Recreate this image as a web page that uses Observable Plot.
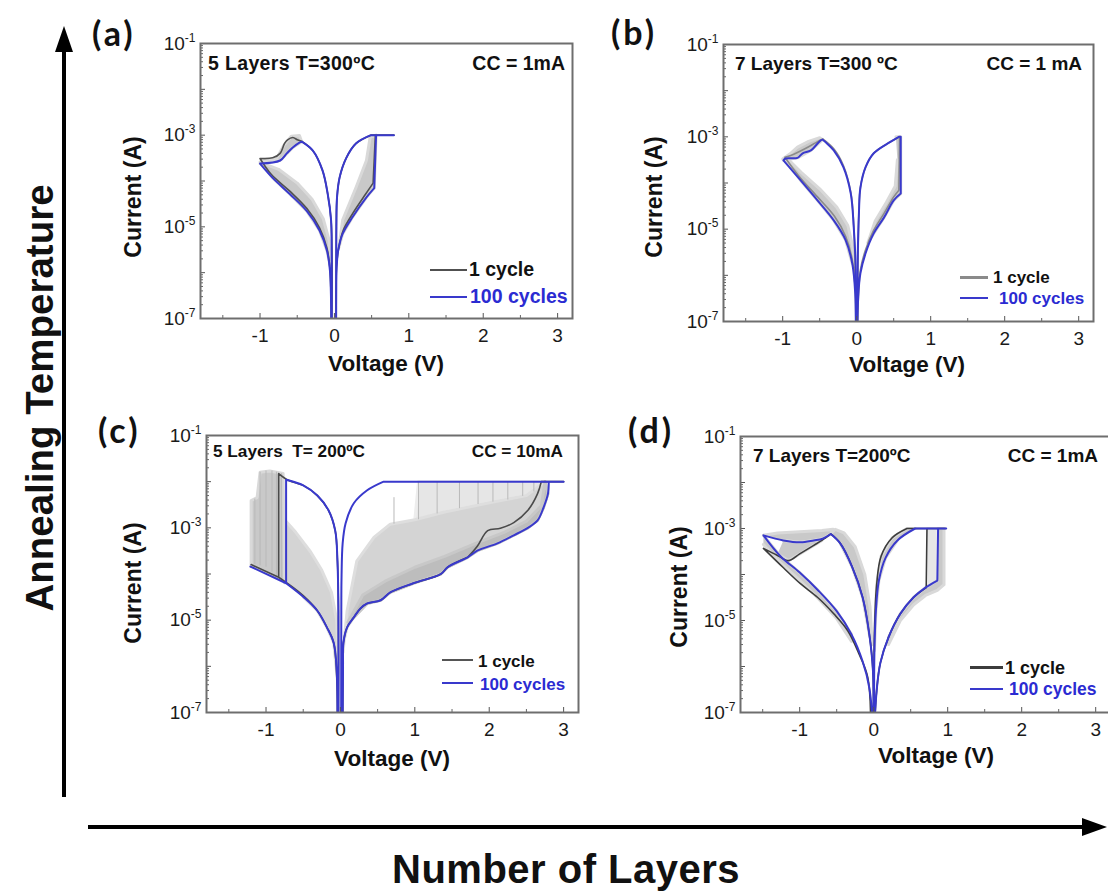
<!DOCTYPE html>
<html>
<head>
<meta charset="utf-8">
<script src="https://cdn.jsdelivr.net/npm/d3@7"></script>
<script src="https://cdn.jsdelivr.net/npm/@observablehq/plot@0.6"></script>
<style>
  body { margin: 0; background: #fff; }
  #fig { position: relative; width: 1108px; height: 894px; overflow: hidden;
         font-family: "Liberation Sans", Arial, sans-serif; color: #111; background: #fff; }
  .abs { position: absolute; white-space: pre; line-height: 1; }
  .panel { position: absolute; }
  #arrows { position: absolute; left: 0; top: 0; }
</style>
</head>
<body>
<div id="fig">
  <svg id="arrows" width="1108" height="894">
    <line x1="64" y1="797" x2="64" y2="48" stroke="#000" stroke-width="4"/>
    <polygon points="64,26 55,52 73,52" fill="#000"/>
    <line x1="88" y1="827" x2="1086" y2="827" stroke="#000" stroke-width="4"/>
    <polygon points="1107,827 1082,818 1082,836" fill="#000"/>
  </svg>
</div>
<script>
// ---- axes ----
const xTicks = [-1, 0, 1, 2, 3];
const xMinorTicks = [-1.5, -0.5, 0.5, 1.5, 2.5];
const yTickLabels = [1e-7, 1e-5, 1e-3, 1e-1];
const yDecades = [1e-7, 1e-6, 1e-5, 1e-4, 1e-3, 1e-2, 1e-1];
const yMinor = [];
for (const d of yDecades.slice(0, -1)) for (let m = 2; m <= 9; m++) yMinor.push(d * m);

// Sweeps are [voltage V, current A]; a third entry of 1 marks a sharp corner
// (set / reset jump, compliance limit, sweep reversal).

// ---- (a) 5 layers, 300 ºC, CC = 1 mA ----
const aBlueRight = [[0.023,5e-8],[0.025,6e-7],[0.03,1.3e-6],[0.05,3e-6],[0.11,7e-6],[0.24,1.6e-5],[0.43,4.4e-5],[0.535,7e-5,1],[0.56,1e-3,1],[0.8,1e-3,1],[0.49,1e-3,1],[0.29,6.6e-4],[0.16,3.2e-4],[0.07,1.2e-4],[0.035,4.4e-5],[0.026,1e-5],[0.024,1.8e-6],[0.023,5e-8]];
const aBlueLeft = [[-0.036,5e-8],[-0.037,3e-6],[-0.045,1.4e-5],[-0.09,5.2e-5],[-0.16,1.7e-4],[-0.29,4.6e-4],[-0.44,7.2e-4,1],[-0.47,6.9e-4],[-0.56,5.4e-4],[-0.64,4e-4],[-0.73,2.8e-4],[-1.0,2.4e-4,1],[-0.83,1.17e-4],[-0.6,5.2e-5],[-0.37,2.2e-5],[-0.2,8.3e-6],[-0.1,3e-6],[-0.06,1.1e-6],[-0.042,5e-8]];
const aBlackRight = [[0.023,5e-8],[0.03,1.5e-6],[0.06,3.6e-6],[0.12,8.5e-6],[0.25,2e-5],[0.42,5.2e-5],[0.52,9e-5,1],[0.55,1e-3,1],[0.8,1e-3,1],[0.49,1e-3,1],[0.29,6.6e-4],[0.16,3.2e-4],[0.07,1.2e-4],[0.035,4.4e-5],[0.026,1e-5],[0.023,5e-8]];
const aBlackLeft = [[-0.036,5e-8],[-0.045,1.4e-5],[-0.09,5.2e-5],[-0.16,1.7e-4],[-0.29,4.6e-4],[-0.44,7.4e-4,1],[-0.49,7.8e-4],[-0.56,8.9e-4],[-0.63,7.9e-4],[-0.67,6.6e-4],[-0.73,4e-4],[-0.83,3.2e-4],[-1.0,3.1e-4,1],[-0.85,1.4e-4],[-0.6,6e-5],[-0.37,2.5e-5],[-0.2,9.5e-6],[-0.1,3.4e-6],[-0.06,1.2e-6],[-0.042,5e-8]];
const aGrayRight = [[0.48,9e-4],[0.56,1e-3],[0.535,7e-5],[0.43,4.4e-5],[0.24,1.6e-5],[0.11,7e-6],[0.06,3.5e-6],[0.11,1.4e-5],[0.29,7.2e-5],[0.43,2.8e-4],[0.48,9e-4]];
const aGrayTop = [[-1.0,2.6e-4],[-0.78,3e-4],[-0.68,6e-4],[-0.58,9.5e-4],[-0.47,9.8e-4],[-0.44,7.2e-4],[-0.56,5.4e-4],[-0.73,2.8e-4],[-1.0,2.4e-4]];
const aGrayOuter = [[-0.95,2.2e-4],[-0.83,1.17e-4],[-0.6,5.2e-5],[-0.37,2.2e-5],[-0.2,8.3e-6],[-0.1,3e-6],[-0.06,1.5e-6],[-0.07,5e-6],[-0.15,1.5e-5],[-0.3,4e-5],[-0.5,9e-5],[-0.75,1.8e-4],[-0.95,2.4e-4]];

// ---- (b) 7 layers, 300 ºC, CC = 1 mA ----
const bBlueRight = [[0.01,5e-8],[0.02,3.3e-7],[0.05,1.1e-6],[0.12,3e-6],[0.23,8.1e-6],[0.37,1.8e-5],[0.5,4.2e-5],[0.595,5.9e-5,1],[0.595,1e-3,1],[0.57,1e-3,1],[0.42,7.2e-4],[0.23,4.4e-4],[0.12,2.2e-4],[0.05,7.9e-5],[0.03,2.2e-5],[0.015,3e-6],[0.01,5e-8]];
const bBlueLeft = [[-0.01,5e-8],[-0.012,1.3e-6],[-0.04,1.1e-5],[-0.08,5.9e-5],[-0.18,2.2e-4],[-0.31,5.1e-4],[-0.46,8.7e-4,1],[-0.49,8.3e-4],[-0.62,5.1e-4],[-0.73,4.4e-4],[-0.8,3.5e-4],[-0.96,3.4e-4],[-0.99,3.1e-4,1],[-0.76,1.15e-4],[-0.53,4.2e-5],[-0.31,1.55e-5],[-0.15,5.8e-6],[-0.06,1.8e-6],[-0.02,4.1e-7],[-0.012,5e-8]];
const bBlackRight = [[0.01,5e-8],[0.05,1.3e-6],[0.12,3.6e-6],[0.23,9.5e-6],[0.37,2.2e-5],[0.5,5e-5],[0.57,7e-5,1],[0.58,1e-3,1],[0.42,7.2e-4],[0.23,4.4e-4],[0.12,2.2e-4],[0.05,7.9e-5],[0.03,2.2e-5],[0.01,5e-8]];
const bBlackLeft = [[-0.01,5e-8],[-0.04,1.2e-5],[-0.08,6.3e-5],[-0.18,2.4e-4],[-0.31,5.5e-4],[-0.46,9e-4,1],[-0.55,7.5e-4],[-0.7,5.5e-4],[-0.85,4.2e-4],[-0.97,3.6e-4,1],[-0.78,1.4e-4],[-0.53,5e-5],[-0.3,1.9e-5],[-0.15,7e-6],[-0.06,2.2e-6],[-0.02,5e-7],[-0.012,5e-8]];
const bGrayTop = [[-1.0,3.3e-4],[-0.9,4.3e-4],[-0.8,6e-4],[-0.65,8e-4],[-0.5,9.6e-4],[-0.46,8.7e-4],[-0.62,5.1e-4],[-0.8,3.5e-4],[-0.99,3.1e-4]];
const bGrayOuter = [[-0.96,3.1e-4],[-0.76,1.15e-4],[-0.53,4.2e-5],[-0.31,1.55e-5],[-0.15,5.8e-6],[-0.06,1.8e-6],[-0.05,4e-6],[-0.12,1.2e-5],[-0.27,3e-5],[-0.5,7.5e-5],[-0.75,1.7e-4],[-0.93,3.3e-4]];
const bGrayRight = [[0.53,1e-3],[0.595,1e-3],[0.595,5.9e-5],[0.5,4.2e-5],[0.37,1.8e-5],[0.23,8.1e-6],[0.15,5e-6],[0.25,1.5e-5],[0.4,3.8e-5],[0.52,8.5e-5],[0.55,3.2e-4]];

// ---- (c) 5 layers, 200 ºC, CC = 10 mA ----
const cBlueRight = [[0.03,5e-8],[0.035,1e-6],[0.04,3.2e-6],[0.09,7e-6],[0.18,1.15e-5],[0.27,1.8e-5],[0.36,2.3e-5],[0.54,2.7e-5],[0.67,4e-5],[0.98,6.3e-5],[1.35,1e-4],[1.44,1.4e-4],[1.71,2.3e-4],[1.84,3.2e-4],[2.11,4.6e-4],[2.33,6.9e-4],[2.52,1e-3],[2.65,1.45e-3],[2.73,2.75e-3],[2.79,5.5e-3],[2.8,1e-2,1],[3.0,1e-2,1],[0.58,1e-2,1],[0.36,6.5e-3],[0.18,3.4e-3],[0.07,1.26e-3],[0.03,4.6e-4],[0.015,8.5e-5],[0.012,1.6e-5],[0.01,5e-8]];
const cBlueLeft = [[-0.027,5e-8],[-0.027,1.6e-5],[-0.04,1.95e-4],[-0.07,8.7e-4],[-0.16,2.4e-3],[-0.31,5e-3],[-0.5,8.3e-3],[-0.7,1.07e-2],[-0.73,1.1e-2,1],[-0.73,6.3e-5,1],[-1.21,1.45e-4,1],[-0.73,6.3e-5,1],[-0.5,3.2e-5],[-0.31,1.6e-5],[-0.18,6.9e-6],[-0.09,3.2e-6],[-0.05,8.1e-7],[-0.04,5e-8]];
const cBlackRight = [[0.03,5e-8],[0.035,1e-6],[0.04,3.2e-6],[0.09,7e-6],[0.18,1.15e-5],[0.27,1.8e-5],[0.36,2.3e-5],[0.54,2.7e-5],[0.67,4e-5],[0.98,6.3e-5],[1.35,1e-4],[1.44,1.4e-4],[1.71,2.3e-4,1],[1.84,4e-4],[1.98,8.7e-4],[2.15,9.8e-4],[2.33,1.3e-3],[2.52,2.4e-3],[2.65,5.5e-3],[2.7,1e-2,1],[3.0,1e-2]];
const cBlackLeft = [[-0.027,5e-8],[-0.027,1.6e-5],[-0.04,1.95e-4],[-0.07,8.7e-4],[-0.16,2.4e-3],[-0.31,5e-3],[-0.5,8.3e-3],[-0.7,1.07e-2],[-0.83,1.5e-2,1],[-0.83,8.5e-5,1],[-1.2,1.6e-4,1],[-0.83,8.5e-5,1],[-0.5,3.4e-5],[-0.31,1.6e-5],[-0.18,6.9e-6],[-0.09,3.2e-6],[-0.04,5e-8]];
const cGrayLeftBlock = [[-1.2,1.45e-4],[-1.2,3.9e-3],[-1.12,4.5e-3],[-1.08,1.6e-2],[-0.95,1.7e-2],[-0.77,1.5e-2],[-0.75,6.5e-5]];
const cGrayLeftFan = [[-0.75,6.5e-5],[-0.75,1.5e-3],[-0.6,8e-4],[-0.4,3e-4],[-0.25,1.2e-4],[-0.12,4e-5],[-0.05,1e-5],[-0.035,2e-6],[-0.04,5e-7],[-0.09,3.2e-6],[-0.18,6.9e-6],[-0.31,1.6e-5],[-0.5,3.2e-5]];
const cGrayRightFan = [[0.035,2e-6],[0.09,1.6e-5],[0.22,1.9e-4],[0.45,6.2e-4],[0.67,1.2e-3],[1.0,1.5e-3],[1.4,2.2e-3],[2.0,3.5e-3],[2.5,5e-3],[2.75,1e-2],[2.79,5.5e-3],[2.73,2.75e-3],[2.65,1.45e-3],[2.52,1e-3],[2.33,6.9e-4],[2.11,4.6e-4],[1.84,3.2e-4],[1.71,2.3e-4],[1.44,1.4e-4],[1.35,1e-4],[0.98,6.3e-5],[0.67,4e-5],[0.54,2.7e-5],[0.36,2.3e-5],[0.18,1.15e-5],[0.09,7e-6],[0.04,3.2e-6]];
const cGrayRightCore = [[0.1,9e-6],[0.3,3.5e-5],[0.6,7e-5],[1.0,1.4e-4],[1.4,2.4e-4],[1.8,4.5e-4],[2.2,8e-4],[2.5,1.4e-3],[2.7,3e-3],[2.75,1e-2],[2.79,5.5e-3],[2.73,2.75e-3],[2.65,1.45e-3],[2.52,1e-3],[2.33,6.9e-4],[2.11,4.6e-4],[1.84,3.2e-4],[1.71,2.3e-4],[1.44,1.4e-4],[1.35,1e-4],[0.98,6.3e-5],[0.67,4e-5],[0.54,2.7e-5],[0.36,2.3e-5],[0.18,1.15e-5]];
const cGrayRightTop = [[1.0,1.5e-3],[1.05,1e-2],[2.75,1e-2],[2.5,5e-3],[2.0,3.5e-3],[1.4,2.2e-3]];
// switching events of single cycles: [V, current before, current after]
const cGraySet = [[0.72,1.2e-3,4.5e-3],[1.05,1.5e-3,1e-2],[1.3,2e-3,1e-2],[1.6,2.6e-3,1e-2],[1.85,3.2e-3,1e-2],[2.05,3.6e-3,1e-2],[2.25,4e-3,1e-2],[2.45,4.8e-3,1e-2],[2.6,6e-3,1e-2]];
const cGrayReset = [[-1.15,1.6e-4,4.2e-3],[-1.08,1.5e-4,1.6e-2],[-1.0,1.4e-4,1.7e-2],[-0.92,1.1e-4,1.7e-2],[-0.86,9e-5,1.6e-2],[-0.79,7.5e-5,1.5e-2]];

// ---- (d) 7 layers, 200 ºC, CC = 1 mA ----
const dBlueRight = [[0.01,5e-8],[0.04,3e-7],[0.09,1.2e-6],[0.2,4.3e-6],[0.36,1.4e-5],[0.54,3.2e-5],[0.7,5.2e-5],[0.86,7.4e-5,1],[0.87,1e-3,1],[0.98,1e-3,1],[0.56,1e-3,1],[0.32,5.5e-4],[0.16,2.3e-4],[0.07,7.4e-5],[0.03,1.66e-5],[0.01,2.2e-6],[0.005,5e-8]];
const dBlueLeft = [[-0.005,5e-8],[-0.01,8.1e-7],[-0.06,5.1e-6],[-0.15,3.2e-5],[-0.29,1.45e-4],[-0.45,4.7e-4],[-0.58,7.6e-4,1],[-0.69,6e-4],[-0.81,5.5e-4],[-0.99,5e-4],[-1.22,5.5e-4],[-1.49,7.1e-4,1],[-1.26,2.5e-4],[-1.0,1.1e-4],[-0.75,4.5e-5],[-0.5,1.6e-5],[-0.3,5e-6],[-0.15,1.3e-6],[-0.06,3.5e-7],[-0.01,5e-8]];
const dBlackRight = [[0.01,5e-8],[0.04,3e-7],[0.09,1.2e-6],[0.2,4.3e-6],[0.36,1.4e-5],[0.54,3.2e-5],[0.71,5.2e-5,1],[0.72,1e-3,1],[0.97,1e-3,1],[0.45,1e-3,1],[0.25,6.3e-4],[0.1,2.5e-4],[0.04,6e-5],[0.01,5e-6],[0.005,5e-8]];
const dBlackLeft = [[-0.005,5e-8],[-0.01,8.1e-7],[-0.06,5.1e-6],[-0.15,3.2e-5],[-0.29,1.45e-4],[-0.45,4.7e-4],[-0.58,7.6e-4,1],[-0.7,5.5e-4],[-0.81,4.3e-4],[-1.0,2.8e-4],[-1.15,2e-4],[-1.3,2.6e-4],[-1.49,3.7e-4,1],[-1.22,1.4e-4],[-0.99,6.3e-5],[-0.76,3.2e-5],[-0.54,1.4e-5],[-0.35,6e-6],[-0.2,1.9e-6],[-0.08,5.8e-7],[-0.04,5e-8]];
const dGrayTop = [[-1.49,7.1e-4],[-1.3,8e-4],[-1.0,8.5e-4],[-0.7,9e-4],[-0.55,9.6e-4],[-0.58,7.6e-4],[-0.69,6e-4],[-0.81,5.5e-4],[-0.99,5e-4],[-1.22,5.5e-4]];
const dGrayMid = [[-1.22,5.5e-4],[-0.99,5e-4],[-0.81,5.5e-4],[-0.69,6e-4],[-0.7,5.5e-4],[-0.81,4.3e-4],[-1.0,2.8e-4],[-1.15,2e-4],[-1.3,2.8e-4]];
const dGrayInnerLeft = [[-0.58,7.6e-4],[-0.52,9.6e-4],[-0.4,8e-4],[-0.25,4e-4],[-0.12,1e-4],[-0.05,2e-5],[-0.02,3e-6],[-0.06,5.1e-6],[-0.15,3.2e-5],[-0.29,1.45e-4],[-0.45,4.7e-4]];
const dGrayDiagonal = [[-1.49,7.1e-4],[-1.26,2.5e-4],[-1.0,1.1e-4],[-0.75,4.5e-5],[-0.5,1.6e-5],[-0.3,5e-6],[-0.3,3.5e-6],[-0.5,1.1e-5],[-0.75,3e-5],[-1.0,7.5e-5],[-1.26,1.8e-4],[-1.49,4.5e-4]];
const dGrayInnerRight = [[0.56,1e-3],[0.45,1e-3],[0.25,6.3e-4],[0.1,2.5e-4],[0.04,6e-5],[0.012,5e-6],[0.01,2.2e-6],[0.03,1.66e-5],[0.07,7.4e-5],[0.16,2.3e-4],[0.32,5.5e-4]];
const dGrayOuterRight = [[0.87,1e-3],[0.95,1e-3],[0.95,6e-5],[0.86,4.5e-5],[0.7,3.5e-5],[0.54,2.2e-5],[0.36,1e-5],[0.2,3e-6],[0.2,4.3e-6],[0.36,1.4e-5],[0.54,3.2e-5],[0.7,5.2e-5],[0.86,7.4e-5]];
const dGraySet = [[0.73,1e-3],[0.86,1e-3],[0.86,7.4e-5],[0.73,5.8e-5]];

const BLUE = "#3939cc";
const BLUE_TEXT = "#2b2bd2";
// shades for the bundles of cycles, from faint to dense
const SHADES = {haze: ["#e6e6e6", "#ededed"], light: ["#d4d4d4", "#dedede"], band: ["#c9c9c9", "#d9d9d9"], core: ["#bdbdbd", "#c8c8c8"]};

const panels = [
  { frame: {left: 200, top: 43, w: 372, h: 275}, gray: {band: [aGrayRight, aGrayTop, aGrayOuter]},
    black: [aBlackRight, aBlackLeft], blackColor: "#505050", blue: [aBlueRight, aBlueLeft] },
  { frame: {left: 723, top: 44, w: 370, h: 277}, gray: {band: [bGrayTop, bGrayOuter, bGrayRight]},
    black: [bBlackRight, bBlackLeft], blackColor: "#8a8a8a", blue: [bBlueRight, bBlueLeft] },
  { frame: {left: 206, top: 435, w: 372, h: 277},
    gray: {haze: [cGrayRightTop], light: [cGrayLeftFan, cGrayRightFan], band: [cGrayLeftBlock], core: [cGrayRightCore]},
    rules: [...cGraySet, ...cGrayReset],
    black: [cBlackRight, cBlackLeft], blackColor: "#4a4a4a", blue: [cBlueRight, cBlueLeft] },
  { frame: {left: 740, top: 436, w: 370, h: 276},
    gray: {haze: [dGraySet], band: [dGrayTop, dGrayMid, dGrayInnerLeft, dGrayDiagonal, dGrayInnerRight, dGrayOuterRight]},
    black: [dBlackRight, dBlackLeft], blackColor: "#3c3c3c", blue: [dBlueRight, dBlueLeft] }
];

const fig = document.getElementById("fig");
const SVGNS = "http://www.w3.org/2000/svg";
const ML = 70, MR = 2, MT = 2, MB = 40;
const X = d => d[0], Y = d => d[1];
// doubling a corner point keeps the Catmull-Rom sweep sharp there
const sweep = arr => arr.flatMap(d => d[2] ? [d, d] : [d]);

function drawPanel(p) {
  const fw = p.frame.w, fh = p.frame.h;
  const marks = [];
  // bundles of the 100 cycles: filled outlines with a soft rim
  for (const level of ["haze", "light", "band", "core"]) {
    const [fill, rim] = SHADES[level];
    for (const poly of p.gray[level] || [])
      marks.push(Plot.line(poly, {x: X, y: Y, fill, stroke: rim, strokeWidth: 3, clip: true}));
  }
  if (p.rules) marks.push(Plot.ruleX(p.rules, {x: d => d[0], y1: d => d[1], y2: d => d[2], stroke: "#b9b9b9", strokeWidth: 1, clip: true}));
  for (const c of p.black) marks.push(Plot.line(sweep(c), {x: X, y: Y, stroke: p.blackColor, strokeWidth: 1.6, curve: "catmull-rom", clip: true}));
  for (const c of p.blue) marks.push(Plot.line(sweep(c), {x: X, y: Y, stroke: BLUE, strokeWidth: 2, curve: "catmull-rom", clip: true}));
  marks.push(Plot.tickY(yDecades, {y: d => d, insetRight: fw - 5, stroke: "#555"}));
  marks.push(Plot.tickY(yMinor, {y: d => d, insetRight: fw - 3, stroke: "#666"}));
  marks.push(Plot.tickX(xTicks, {x: d => d, insetTop: fh - 5, stroke: "#555"}));
  marks.push(Plot.tickX(xMinorTicks, {x: d => d, insetTop: fh - 3, stroke: "#666"}));
  marks.push(Plot.frame({stroke: "#6e6e6e", strokeWidth: 2}));
  marks.push(Plot.axisX({ticks: xTicks, tickSize: 0, tickPadding: 10, tickFormat: d => String(d), label: null}));
  marks.push(Plot.axisY({ticks: yTickLabels, tickSize: 0, tickPadding: 5,
    tickFormat: d => "10^" + Math.round(Math.log10(d)), label: null}));
  const svg = Plot.plot({
    width: ML + fw + MR, height: MT + fh + MB,
    marginLeft: ML, marginRight: MR, marginTop: MT, marginBottom: MB,
    x: {domain: [-1.8, 3.2]},
    y: {type: "log", domain: [1e-7, 1e-1]},
    style: {fontFamily: '"Liberation Sans", Arial, sans-serif', fontSize: "19px", color: "#1a1a1a", background: "transparent", overflow: "visible"},
    marks
  });
  // superscript exponents on the decade labels
  svg.querySelectorAll("text").forEach(t => {
    const m = t.textContent.match(/^10\^(-?\d+)$/);
    if (!m) return;
    t.textContent = "10";
    const sup = document.createElementNS(SVGNS, "tspan");
    sup.setAttribute("dy", "-8");
    sup.setAttribute("font-size", "12");
    sup.textContent = m[1];
    t.appendChild(sup);
  });
  svg.classList.add("panel");
  svg.style.left = (p.frame.left - ML) + "px";
  svg.style.top = (p.frame.top - MT) + "px";
  fig.appendChild(svg);
}
panels.forEach(drawPanel);

// ---- text ----
function txt(str, o) {
  const d = document.createElement("div");
  d.className = "abs";
  d.textContent = str;
  d.style.fontSize = o.size + "px";
  d.style.fontWeight = o.weight || "bold";
  if (o.family) d.style.fontFamily = o.family;
  if (o.ls) d.style.letterSpacing = o.ls + "px";
  d.style.color = o.color || "#111";
  if (o.rotate) {
    d.style.left = o.x + "px"; d.style.top = o.y + "px";
    d.style.transform = "translate(-50%,-50%) rotate(-90deg)";
  } else {
    const k = o.k || 0.8465;
    d.style.top = (o.base - k * o.size) + "px";
    d.style.left = o.x + "px";
    if (o.anchor === "end") d.style.transform = "translateX(-100%)";
    if (o.anchor === "middle") d.style.transform = "translateX(-50%)";
  }
  fig.appendChild(d);
}
function swatch(x1, x2, y, w, color) {
  const d = document.createElement("div");
  d.className = "abs";
  d.style.left = x1 + "px"; d.style.top = (y - w / 2) + "px";
  d.style.width = (x2 - x1) + "px"; d.style.height = w + "px";
  d.style.background = color;
  fig.appendChild(d);
}

const letterFont = 'Lato, "Open Sans", sans-serif';
txt("(a)", {x: 92, base: 46, size: 34, ls: 3, family: letterFont, k: 0.887});
txt("(b)", {x: 611, base: 45, size: 34, ls: 3, family: letterFont, k: 0.887});
txt("(c)", {x: 98, base: 443, size: 34, ls: 3, family: letterFont, k: 0.887});
txt("(d)", {x: 628, base: 443, size: 34, ls: 3, family: letterFont, k: 0.887});

txt("5 Layers T=300ºC", {x: 208, base: 71, size: 19.5, ls: 0.35});
txt("CC = 1mA", {x: 565, base: 71, size: 19.5, anchor: "end"});
txt("7 Layers T=300 ºC", {x: 735, base: 70, size: 19});
txt("CC = 1 mA", {x: 1082, base: 70, size: 19, anchor: "end"});
txt("5 Layers  T= 200ºC", {x: 213, base: 458, size: 17.2});
txt("CC = 10mA", {x: 563, base: 458, size: 17.2, anchor: "end"});
txt("7 Layers T=200ºC", {x: 753, base: 462, size: 19});
txt("CC = 1mA", {x: 1098, base: 462, size: 19, anchor: "end"});

// axis titles
[[386, 364], [907, 365], [392, 759], [936, 756]].forEach(([cx, cy]) =>
  txt("Voltage (V)", {x: cx, base: cy + 8, size: 22.5, anchor: "middle"}));
[[133, 197], [654, 197], [133, 583], [679, 587]].forEach(([cx, cy]) =>
  txt("Current (A)", {x: cx, y: cy, size: 23, rotate: true}));

// legends
swatch(430, 467, 270, 2, "#505050"); txt("1 cycle", {x: 469, base: 277, size: 19.5});
swatch(430, 467, 297, 2, BLUE);      txt("100 cycles", {x: 470, base: 304, size: 19.5, color: BLUE_TEXT});
swatch(960, 988, 277, 3, "#8a8a8a"); txt("1 cycle", {x: 993, base: 283, size: 17});
swatch(960, 988, 298, 2, BLUE);      txt("100 cycles", {x: 999, base: 304, size: 17, color: BLUE_TEXT});
swatch(442, 473, 660, 1.6, "#555");  txt("1 cycle", {x: 478, base: 667, size: 17});
swatch(442, 473, 683, 2, BLUE);      txt("100 cycles", {x: 480, base: 690, size: 17, color: BLUE_TEXT});
swatch(970, 1003, 667, 3, "#3c3c3c"); txt("1 cycle", {x: 1005, base: 674, size: 18});
swatch(970, 1003, 689, 1.6, BLUE);   txt("100 cycles", {x: 1009, base: 696, size: 17.5, color: BLUE_TEXT});

// overall axes
txt("Annealing Temperature", {x: 40, y: 398, size: 38.5, rotate: true});
txt("Number of Layers", {x: 392, base: 883, size: 40, ls: 0.5});
</script>
</body>
</html>
